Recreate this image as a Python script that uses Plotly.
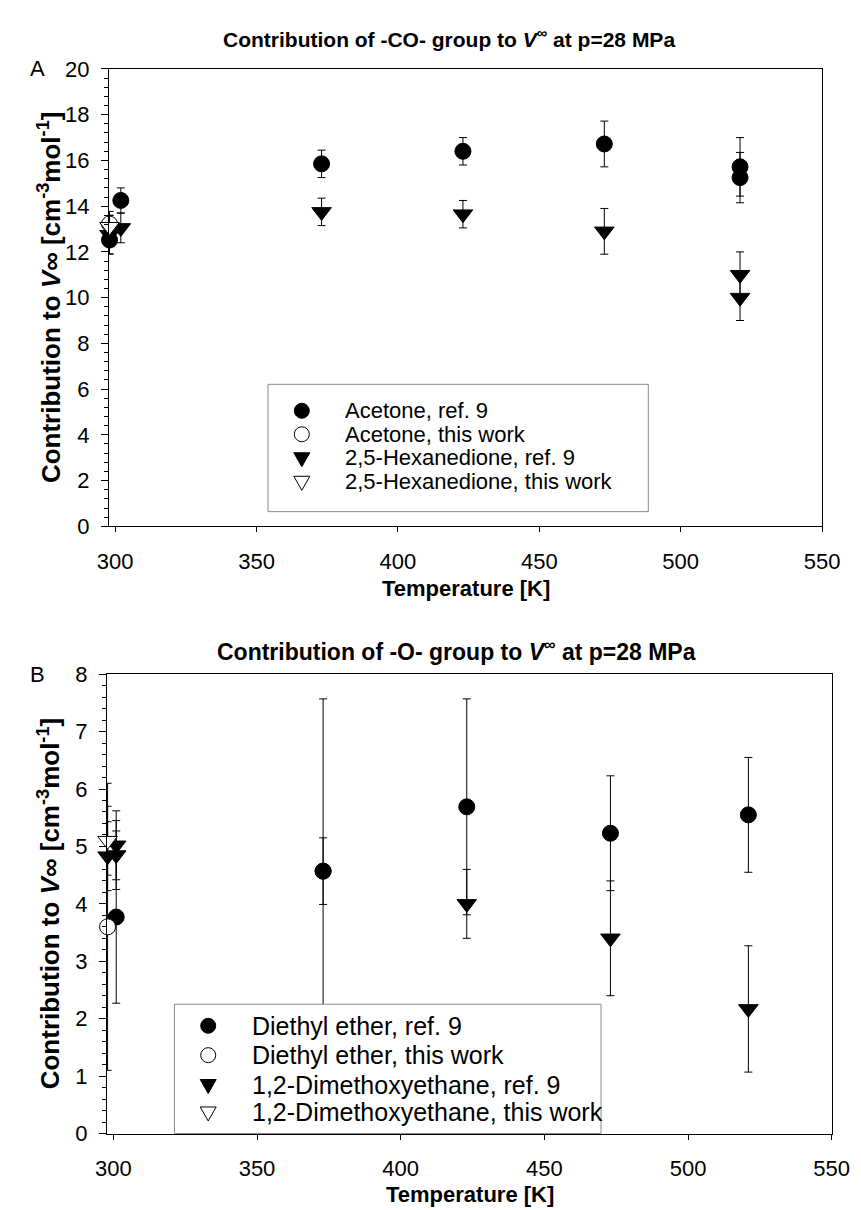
import plotly.graph_objects as go

W, H = 861, 1210
FONT = "Liberation Sans, Arial, Helvetica, sans-serif"

# ---------------- Panel A data (-CO- group) ----------------
acetone_ref_T = [298, 302, 373, 423, 473, 521, 521]
acetone_ref_V = [12.52, 14.25, 15.85, 16.4, 16.72, 15.72, 15.25]
acetone_ref_err = [0.6, 0.55, 0.6, 0.6, 1.0, 1.28, 1.1]

acetone_tw_T = [298]
acetone_tw_V = [13.22]
acetone_tw_err = [0.55]

hex_ref_T = [298, 302, 373, 423, 473, 521, 521]
hex_ref_V = [12.75, 13.05, 13.75, 13.65, 12.9, 11.0, 10.0]
hex_ref_err = [0.85, 0.65, 0.6, 0.6, 1.0, 1.0, 1.0]

hex_tw_T = [298]
hex_tw_V = [13.1]
hex_tw_err = [0.5]

# ---------------- Panel B data (-O- group) ----------------
ether_ref_T = [301, 373, 373, 423, 473, 521]
ether_ref_V = [3.77, 4.57, 4.57, 5.69, 5.23, 5.55]
ether_ref_err = [1.5, 3.0, 0.58, 1.88, 1.0, 1.0]

ether_tw_T = [298]
ether_tw_V = [3.6]
ether_tw_err = [2.5]

dme_ref_T = [298, 301, 301, 423, 473, 521]
dme_ref_V = [4.83, 5.02, 4.85, 4.0, 3.4, 2.17]
dme_ref_err = [0.6, 0.6, 0.6, 0.6, 1.0, 1.1]

dme_tw_T = [298]
dme_tw_V = [5.1]
dme_tw_err = [0.6]

x_ticks = [300, 350, 400, 450, 500, 550]

legend_A = ["Acetone, ref. 9", "Acetone, this work",
            "2,5-Hexanedione, ref. 9", "2,5-Hexanedione, this work"]
legend_B = ["Diethyl ether, ref. 9", "Diethyl ether, this work",
            "1,2-Dimethoxyethane, ref. 9", "1,2-Dimethoxyethane, this work"]

STYLES = [
    dict(symbol="circle", color="black"),
    dict(symbol="circle", color="white"),
    dict(symbol="triangle-down", color="black"),
    dict(symbol="triangle-down", color="white"),
]


def px_x(p):
    return p / W


def px_y(p):
    return 1 - p / H


fig = go.Figure()


def add_series(T, V, E, style, xa, ya, name):
    size = 16 if style["symbol"] == "circle" else 17
    fig.add_trace(go.Scatter(
        x=T, y=V, mode="markers", name=name, showlegend=False,
        xaxis=xa, yaxis=ya, cliponaxis=False,
        marker=dict(symbol=style["symbol"], size=size, color=style["color"],
                    line=dict(color="black", width=1)),
        error_y=dict(type="data", array=E, color="black", thickness=1, width=4),
    ))


add_series(acetone_ref_T, acetone_ref_V, acetone_ref_err, STYLES[0], "x", "y", legend_A[0])
add_series(acetone_tw_T, acetone_tw_V, acetone_tw_err, STYLES[1], "x", "y", legend_A[1])
add_series(hex_ref_T, hex_ref_V, hex_ref_err, STYLES[2], "x", "y", legend_A[2])
add_series(hex_tw_T, hex_tw_V, hex_tw_err, STYLES[3], "x", "y", legend_A[3])

add_series(ether_ref_T, ether_ref_V, ether_ref_err, STYLES[0], "x2", "y2", legend_B[0])
add_series(ether_tw_T, ether_tw_V, ether_tw_err, STYLES[1], "x2", "y2", legend_B[1])
add_series(dme_ref_T, dme_ref_V, dme_ref_err, STYLES[2], "x2", "y2", legend_B[2])
add_series(dme_tw_T, dme_tw_V, dme_tw_err, STYLES[3], "x2", "y2", legend_B[3])

common_x = dict(range=[297.75, 550], tickvals=x_ticks, ticks="outside", ticklen=5,
                tickcolor="black", showline=True, mirror=True, linecolor="black",
                linewidth=1, showgrid=False, zeroline=False,
                tickfont=dict(size=22, family=FONT, color="black"),
                ticklabelstandoff=10)
common_y = dict(ticks="outside", ticklen=7, tickcolor="black", showline=True,
                mirror=True, linecolor="black", linewidth=1, showgrid=False,
                zeroline=False, tickfont=dict(size=22, family=FONT, color="black"),
                ticklabelstandoff=7)

fig.update_layout(
    width=W, height=H, margin=dict(l=0, r=0, t=0, b=0),
    paper_bgcolor="white", plot_bgcolor="white", showlegend=False,
    font=dict(family=FONT, color="black"),
    xaxis=dict(domain=[px_x(92), px_x(831)], anchor="y", **common_x),
    yaxis=dict(domain=[px_y(517), px_y(50)], anchor="x", range=[0, 20], dtick=2,
               minor=dict(dtick=0.4, ticks="outside", ticklen=4, tickcolor="black"),
               **common_y),
    xaxis2=dict(domain=[px_x(90), px_x(841)], anchor="y2", **common_x),
    yaxis2=dict(domain=[px_y(1137), px_y(668)], anchor="x2", range=[0, 8], dtick=1,
                minor=dict(dtick=0.2, ticks="outside", ticklen=4, tickcolor="black"),
                **common_y),
)

annotations = []
shapes = []


def text(x, y, s, size, bold=False, xanchor="center", angle=0):
    if bold:
        s = "<b>" + s + "</b>"
    annotations.append(dict(x=px_x(x), y=px_y(y), xref="paper", yref="paper",
                            text=s, showarrow=False, xanchor=xanchor, yanchor="middle",
                            textangle=angle, font=dict(size=size, family=FONT, color="black")))


# titles
text(445, 18, "Contribution of -CO- group to <i>V</i><sup>∞</sup> at p=28 MPa", 21, bold=True)
text(452, 643, "Contribution of -O- group to <i>V</i><sup>∞</sup> at p=28 MPa", 23, bold=True)
text(18, 50, "A", 22)
text(18, 668, "B", 22)
text(462, 581, "Temperature [K]", 22, bold=True)
text(466, 1199, "Temperature [K]", 22, bold=True)
ytitle = "Contribution to <i>V</i>∞ [cm<sup>-3</sup>mol<sup>-1</sup>]"
text(30, 283, ytitle, 26, bold=True, angle=-90)
text(30, 902, ytitle, 26, bold=True, angle=-90)


def legend(box, rows_y, marker_x, text_x, labels, size):
    x0, y0, x1, y1 = box
    shapes.append(dict(type="rect", xref="paper", yref="paper", layer="above",
                       x0=px_x(x0), x1=px_x(x1), y0=px_y(y1), y1=px_y(y0),
                       fillcolor="white", line=dict(color="#8a8a8a", width=1)))
    for i, (ry, lab) in enumerate(zip(rows_y, labels)):
        st = STYLES[i]
        if st["symbol"] == "circle":
            shapes.append(dict(type="circle", xref="paper", yref="paper", layer="above",
                               xsizemode="pixel", ysizemode="pixel",
                               xanchor=px_x(marker_x), yanchor=px_y(ry),
                               x0=-7.5, x1=7.5, y0=-7.5, y1=7.5,
                               fillcolor=st["color"], line=dict(color="black", width=1)))
        else:
            shapes.append(dict(type="path", xref="paper", yref="paper", layer="above",
                               xsizemode="pixel", ysizemode="pixel",
                               xanchor=px_x(marker_x), yanchor=px_y(ry),
                               path="M-8,5 L8,5 L0,-9 Z",
                               fillcolor=st["color"], line=dict(color="black", width=1)))
        text(text_x, ry, lab, size, xanchor="left")


legend((257, 372, 651, 502), [399, 423, 447, 471], 292, 335, legend_A, 22)
legend((160, 1005, 602, 1137), [1027, 1057, 1087, 1115], 195, 238, legend_B, 25)

fig.update_layout(annotations=annotations, shapes=shapes)
fig.write_html("out.html")
